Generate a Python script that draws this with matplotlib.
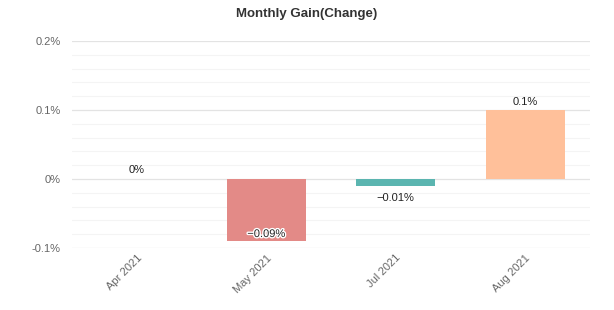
import numpy as np
import matplotlib.pyplot as plt
import matplotlib.patheffects as pe
from matplotlib.ticker import MultipleLocator, FuncFormatter

plt.rcParams['font.family'] = ['Liberation Sans', 'DejaVu Sans']

# Dados do gráfico
meses = ["Apr 2021", "May 2021", "Jul 2021", "Aug 2021"]
ganhos = [0.0, -0.09, -0.01, 0.1]
rotulos = ["0%", "\u22120.09%", "\u22120.01%", "0.1%"]
cores = ["#8fb3d9", "#e38a87", "#5bb5b0", "#ffc09a"]

fig = plt.figure(figsize=(6.14, 3.10), dpi=100)
ax = fig.add_axes([0.117, 0.2, 0.844, 0.668])

x = np.arange(len(meses))
ax.bar(x, ganhos, width=0.61, color=cores, zorder=3)

ax.set_xlim(-0.5, len(meses) - 0.5)
ax.set_ylim(-0.1, 0.2)
ax.yaxis.set_major_locator(MultipleLocator(0.1))
ax.yaxis.set_minor_locator(MultipleLocator(0.02))
ax.yaxis.set_major_formatter(FuncFormatter(lambda v, p: f"{v:g}%".replace("-0%", "0%")))
ax.grid(which="major", axis="y", color="#e3e3e3", linewidth=0.9, zorder=0)
ax.grid(which="minor", axis="y", color="#f4f4f4", linewidth=0.8, zorder=0)
ax.tick_params(axis="both", which="both", length=0, colors="#666666", labelsize=8)
ax.tick_params(axis="y", pad=8)
for s in ax.spines.values():
    s.set_visible(False)

ax.set_xticks(x)
ax.set_xticklabels(meses, rotation=45, ha="right", rotation_mode="anchor")

# Rótulos das barras
for i, (v, r) in enumerate(zip(ganhos, rotulos)):
    if v > 0:
        ax.text(i, v + 0.004, r, ha="center", va="bottom", fontsize=8, color="#222222")
    elif v == 0:
        ax.text(i, 0.006, r, ha="center", va="bottom", fontsize=8, color="#222222")
    elif v < -0.05:
        ax.text(i, v + 0.003, r, ha="center", va="bottom", fontsize=8, color="#222222",
                path_effects=[pe.withStroke(linewidth=2, foreground="white")], zorder=4)
    else:
        ax.text(i, v - 0.011, r, ha="center", va="top", fontsize=8, color="#222222")

fig.suptitle("Monthly Gain(Change)", x=0.5, y=0.975, fontsize=9.5, fontweight="bold", color="#333333")

fig.savefig("out.png", dpi=100)
